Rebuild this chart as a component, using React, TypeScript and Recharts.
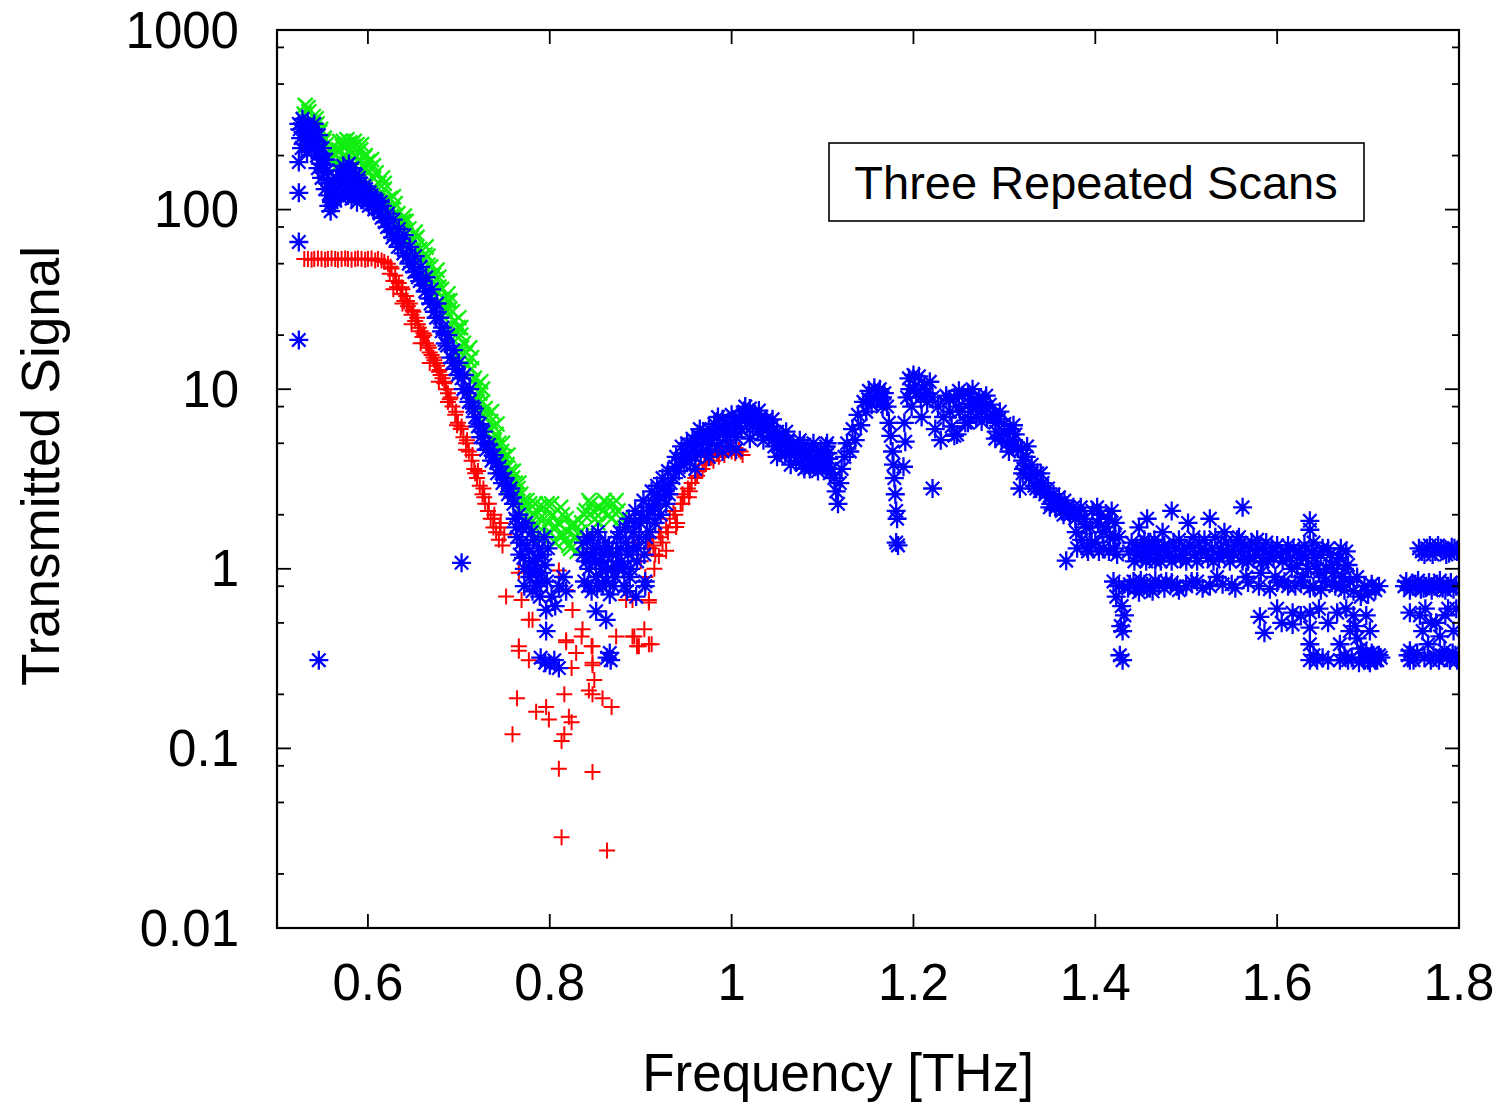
import { Scatter, ScatterChart, XAxis, YAxis } from "recharts";

// three repeated THz transmission scans: [frequency THz, signal]
const scan1Red: [number, number][] = [
  [0.530, 53], [0.534, 53], [0.538, 52.5], [0.541, 53], [0.545, 53.5], [0.549, 53], [0.553, 52.5], [0.556, 53],
  [0.560, 53.5], [0.564, 53], [0.567, 52.5], [0.571, 53], [0.575, 53.5], [0.578, 53], [0.582, 52.5], [0.586, 53],
  [0.589, 53.5], [0.593, 53], [0.597, 52.5], [0.600, 53], [0.604, 53.5], [0.608, 52], [0.611, 53], [0.615, 52], [0.618, 51],
  [0.622, 50], [0.624, 44], [0.626, 47], [0.628, 40], [0.630, 43], [0.632, 37], [0.634, 39], [0.636, 34], [0.638, 36],
  [0.640, 31], [0.642, 33], [0.644, 29], [0.646, 30], [0.648, 26], [0.650, 27], [0.652, 24], [0.654, 25], [0.656, 22],
  [0.658, 21], [0.660, 19.5], [0.662, 20], [0.664, 18], [0.666, 17.5], [0.668, 16], [0.670, 15.5], [0.672, 15],
  [0.674, 14], [0.676, 13.5], [0.678, 12.5], [0.680, 12], [0.682, 11.5], [0.684, 10.8], [0.686, 10], [0.688, 9.5],
  [0.690, 8.8], [0.693, 8], [0.696, 7.2], [0.699, 6.5], [0.702, 6], [0.705, 5.4], [0.708, 5], [0.711, 4.5], [0.714, 4],
  [0.717, 3.6], [0.720, 3.2], [0.723, 2.9], [0.726, 2.6], [0.729, 2.3], [0.732, 2.1], [0.735, 1.9], [0.738, 1.7],
  [0.741, 1.6], [0.744, 1.45], [0.746, 1.8], [0.748, 1.35],
  [0.625, 48], [0.631, 40], [0.637, 37], [0.643, 31], [0.649, 27.5], [0.655, 23], [0.661, 20.5], [0.667, 17],
  [0.673, 14.5], [0.679, 12.8], [0.685, 11], [0.691, 9], [0.697, 7.5], [0.703, 6.2], [0.709, 5.2], [0.715, 4.3],
  [0.721, 3.5], [0.727, 2.8], [0.733, 2.3], [0.739, 2.0], [0.745, 1.7], [0.750, 1.55],
  [0.628, 36], [0.638, 30], [0.648, 23], [0.658, 18], [0.668, 14], [0.678, 11], [0.688, 8.5], [0.698, 6.3],
  [0.708, 4.6], [0.718, 3.4], [0.728, 2.5], [0.738, 1.9],
  [0.752, 0.70], [0.766, 0.95], [0.777, 0.52], [0.766, 0.37], [0.777, 0.31], [0.796, 0.59], [0.810, 0.98], [0.818, 0.76],
  [0.825, 0.59], [0.818, 0.39], [0.829, 0.34], [0.836, 0.46], [0.847, 0.37], [0.847, 0.30], [0.873, 0.42], [0.891, 0.42],
  [0.898, 0.37], [0.909, 0.38], [0.891, 0.67], [0.909, 0.67], [0.920, 1.18], [0.928, 1.26], [0.939, 1.71], [0.946, 2.3],
  [0.953, 2.5], [0.766, 0.35], [0.781, 0.52], [0.796, 0.17], [0.785, 0.16], [0.764, 0.19], [0.799, 0.145], [0.759, 0.12],
  [0.816, 0.20], [0.821, 0.15], [0.824, 0.14], [0.816, 0.12], [0.813, 0.11], [0.810, 0.077], [0.847, 0.074], [0.813, 0.032],
  [0.863, 0.027], [0.843, 0.21], [0.849, 0.24], [0.847, 0.20], [0.858, 0.19], [0.868, 0.17], [0.846, 0.37], [0.847, 0.29],
  [0.835, 0.42], [0.824, 0.28], [0.769, 0.67], [0.818, 0.40], [0.893, 0.42], [0.896, 0.37], [0.912, 0.38], [0.904, 0.46],
  [0.884, 0.67], [0.909, 0.65], [0.893, 1.4], [0.900, 1.1], [0.905, 0.9], [0.910, 1.3], [0.915, 1.0],
  [0.908, 1.3], [0.912, 1.5], [0.916, 1.2], [0.920, 1.6], [0.924, 1.4], [0.928, 1.7], [0.932, 1.9], [0.936, 2.1],
  [0.940, 1.8], [0.944, 2.3], [0.948, 2.5], [0.952, 2.8], [0.956, 3.0], [0.960, 3.2], [0.964, 3.5], [0.968, 3.6],
  [0.972, 3.9], [0.976, 4.2], [0.980, 4.0], [0.984, 4.4], [0.988, 4.6], [0.992, 4.3], [0.996, 4.7], [1.000, 4.5],
  [1.004, 4.4], [1.008, 4.6], [1.012, 4.3],
  [0.914, 1.35], [0.922, 1.5], [0.930, 1.6], [0.938, 2.0], [0.946, 2.6], [0.954, 2.7], [0.962, 3.3], [0.970, 3.8],
  [0.978, 4.3], [0.986, 4.2], [0.994, 4.6], [1.002, 4.7], [1.010, 4.5],
];

const scan2Green: [number, number][] = [
  [0.530, 340], [0.532, 290], [0.534, 370], [0.536, 310], [0.538, 260], [0.540, 330], [0.542, 280], [0.544, 300],
  [0.546, 240], [0.548, 280], [0.550, 220], [0.552, 250], [0.554, 230], [0.556, 200], [0.558, 215], [0.560, 195],
  [0.562, 180], [0.564, 200], [0.566, 175], [0.568, 215], [0.570, 190], [0.572, 225], [0.574, 180], [0.576, 230],
  [0.578, 195], [0.580, 235], [0.582, 185], [0.584, 225], [0.586, 200], [0.588, 230], [0.590, 190], [0.592, 215],
  [0.594, 175], [0.596, 195], [0.598, 170], [0.600, 185], [0.600, 160], [0.603, 170], [0.606, 150], [0.609, 160],
  [0.531, 380], [0.535, 350], [0.539, 300], [0.543, 320], [0.547, 270], [0.551, 240], [0.565, 215], [0.569, 240],
  [0.573, 240], [0.577, 245], [0.581, 215], [0.585, 240], [0.589, 210], [0.593, 230], [0.597, 200],
  [0.612, 140], [0.612, 118], [0.615, 125], [0.618, 130], [0.621, 112], [0.624, 115], [0.627, 100], [0.630, 92],
  [0.630, 80], [0.633, 95], [0.636, 84], [0.639, 86], [0.642, 76], [0.645, 78], [0.648, 70], [0.648, 58], [0.651, 68],
  [0.654, 62], [0.657, 60], [0.660, 55], [0.663, 56], [0.666, 49], [0.666, 40], [0.669, 48], [0.672, 43], [0.675, 41],
  [0.678, 37], [0.681, 36], [0.684, 32], [0.684, 27], [0.687, 31], [0.690, 28], [0.693, 27], [0.696, 24], [0.699, 22],
  [0.702, 20], [0.702, 16], [0.705, 18], [0.708, 16], [0.711, 14.5], [0.714, 13], [0.717, 11.5], [0.720, 10.5],
  [0.720, 8.5], [0.723, 9.5], [0.726, 8.5], [0.729, 7.8], [0.732, 7.2], [0.735, 6.6], [0.738, 6.2], [0.738, 5],
  [0.741, 5.6], [0.744, 5.0], [0.747, 4.5], [0.750, 4.2], [0.753, 3.8], [0.756, 3.5], [0.756, 2.9], [0.759, 3.2],
  [0.762, 3.0], [0.765, 2.8], [0.768, 2.6], [0.771, 2.4],
  [0.601, 140], [0.607, 130], [0.613, 108], [0.619, 100], [0.625, 90], [0.631, 84], [0.637, 72], [0.643, 64],
  [0.649, 56], [0.655, 52], [0.661, 46], [0.667, 42], [0.673, 36], [0.679, 31], [0.685, 28], [0.691, 23], [0.697, 20],
  [0.703, 17], [0.709, 13.5], [0.715, 11], [0.721, 9], [0.727, 7.2], [0.733, 6.0], [0.739, 5.2], [0.745, 4.3],
  [0.751, 3.6], [0.757, 3.0], [0.763, 2.6], [0.769, 2.2],
  [0.604, 190], [0.616, 150], [0.628, 118], [0.640, 92], [0.652, 75], [0.664, 62], [0.676, 46], [0.688, 34],
  [0.700, 25], [0.712, 17], [0.724, 11], [0.736, 7.5], [0.748, 5.0], [0.760, 3.5],
  [0.606, 175], [0.618, 140], [0.630, 108], [0.642, 86], [0.654, 70], [0.666, 55], [0.678, 42], [0.690, 31],
  [0.702, 22], [0.714, 15], [0.726, 10], [0.742, 6.4], [0.754, 4.3], [0.766, 3.0],
  [0.773, 2.2], [0.776, 1.9], [0.778, 2.3], [0.780, 1.6], [0.783, 2.0], [0.786, 1.75], [0.788, 2.2], [0.791, 1.5],
  [0.794, 1.9], [0.797, 2.3], [0.800, 1.6], [0.803, 2.0], [0.806, 1.4], [0.809, 1.8], [0.812, 2.2], [0.815, 1.55],
  [0.818, 1.9], [0.821, 1.35], [0.824, 1.7], [0.827, 1.5], [0.830, 1.25],
  [0.775, 2.4], [0.779, 1.8], [0.784, 2.3], [0.789, 1.9], [0.793, 2.2], [0.798, 1.8], [0.802, 2.3], [0.807, 1.7],
  [0.811, 1.55], [0.814, 2.0], [0.817, 1.45], [0.820, 1.6], [0.823, 1.3], [0.826, 1.8], [0.829, 1.5], [0.833, 1.6],
  [0.835, 1.8], [0.840, 2.1], [0.845, 2.3], [0.850, 1.9], [0.855, 2.2], [0.860, 2.4], [0.865, 2.0], [0.870, 2.3],
  [0.875, 2.1], [0.878, 1.9],
  [0.838, 2.0], [0.843, 2.4], [0.848, 2.1], [0.853, 1.8], [0.858, 2.1], [0.863, 2.3], [0.868, 1.9], [0.873, 2.4],
];

const scan3Blue: [number, number][] = [
  [0.524, 18.8], [0.524, 66], [0.524, 124], [0.524, 184], [0.546, 0.31], [0.703, 1.08],
  [0.524, 300], [0.526, 250], [0.528, 320], [0.530, 270], [0.532, 230], [0.534, 300], [0.536, 260], [0.538, 215],
  [0.540, 280], [0.541, 300], [0.542, 240], [0.544, 200], [0.545, 170], [0.546, 260], [0.548, 180], [0.550, 220],
  [0.552, 160], [0.554, 190], [0.556, 140], [0.557, 105], [0.558, 120], [0.559, 98], [0.561, 115],
  [0.563, 130], [0.565, 150], [0.567, 120], [0.569, 165], [0.571, 140], [0.573, 175], [0.575, 125], [0.577, 160],
  [0.579, 180], [0.581, 140], [0.583, 170], [0.585, 120], [0.587, 155], [0.589, 135],
  [0.525, 280], [0.527, 220], [0.529, 300], [0.531, 250], [0.533, 210], [0.535, 280], [0.537, 240], [0.539, 250],
  [0.543, 260], [0.547, 220], [0.549, 150], [0.551, 190], [0.553, 130], [0.555, 165], [0.557, 140], [0.560, 110],
  [0.562, 130], [0.564, 112], [0.566, 135], [0.568, 145], [0.570, 118], [0.572, 155], [0.574, 150], [0.576, 135],
  [0.578, 120], [0.580, 155], [0.582, 115], [0.584, 145], [0.586, 135], [0.588, 110], [0.590, 150], [0.593, 120],
  [0.596, 135], [0.599, 110], [0.602, 125], [0.605, 108], [0.608, 115], [0.611, 100], [0.614, 110],
  [0.592, 140], [0.595, 115], [0.598, 130], [0.601, 105], [0.604, 120], [0.607, 100], [0.610, 112],
  [0.613, 95], [0.616, 105], [0.619, 85], [0.622, 95], [0.625, 75], [0.628, 88], [0.631, 68], [0.634, 78],
  [0.637, 65], [0.640, 72], [0.643, 55], [0.646, 62], [0.649, 48], [0.652, 55], [0.655, 42],
  [0.658, 48], [0.661, 38], [0.664, 42], [0.667, 32], [0.670, 36], [0.673, 27], [0.676, 30],
  [0.679, 25], [0.682, 22], [0.685, 18], [0.688, 20], [0.691, 15], [0.694, 16.5], [0.697, 13], [0.700, 14],
  [0.703, 11.5], [0.706, 12], [0.709, 9.5], [0.712, 10], [0.715, 8],
  [0.718, 7], [0.721, 6.2], [0.724, 5.4], [0.727, 5.8], [0.730, 4.6], [0.733, 4.9], [0.736, 4.0], [0.739, 4.3],
  [0.742, 3.4], [0.745, 3.7], [0.748, 3.0], [0.751, 3.2], [0.754, 2.6], [0.757, 2.8], [0.760, 2.3],
  [0.615, 90], [0.621, 80], [0.627, 70], [0.633, 62], [0.639, 57], [0.645, 50], [0.651, 45], [0.657, 40], [0.663, 35],
  [0.669, 30], [0.675, 25], [0.681, 21], [0.687, 17.5], [0.693, 14], [0.699, 12], [0.705, 10], [0.711, 8.5],
  [0.717, 7.8], [0.723, 6.4], [0.729, 5.0], [0.735, 4.6], [0.741, 3.9], [0.747, 3.4], [0.753, 2.9], [0.759, 2.5],
  [0.762, 1.9], [0.764, 1.5], [0.767, 1.2], [0.770, 1.7], [0.772, 1.0], [0.775, 1.35], [0.778, 0.9], [0.780, 1.6],
  [0.783, 1.1], [0.786, 0.8], [0.788, 1.3], [0.791, 0.95], [0.794, 1.5],
  [0.763, 1.7], [0.766, 2.0], [0.769, 1.4], [0.771, 1.15], [0.774, 1.8], [0.777, 1.25], [0.779, 1.0], [0.782, 1.45],
  [0.785, 0.95], [0.787, 1.15], [0.790, 0.85], [0.792, 1.2], [0.795, 1.05], [0.798, 1.3], [0.772, 0.8], [0.781, 0.75],
  [0.789, 0.7],
  [0.796, 0.59], [0.796, 0.45], [0.790, 0.32], [0.795, 0.30], [0.800, 0.29], [0.805, 0.31], [0.810, 0.28],
  [0.797, 0.85], [0.802, 0.7], [0.806, 0.62], [0.810, 0.8], [0.815, 0.9], [0.818, 0.75],
  [0.836, 1.2], [0.838, 0.85], [0.841, 1.5], [0.843, 1.0], [0.846, 0.75], [0.848, 1.3], [0.851, 0.9], [0.853, 1.6],
  [0.856, 1.1], [0.858, 0.8], [0.861, 1.4], [0.864, 1.0], [0.866, 0.72], [0.869, 1.2], [0.872, 0.9], [0.874, 1.5],
  [0.837, 1.4], [0.840, 1.1], [0.842, 0.8], [0.845, 1.2], [0.847, 1.5], [0.850, 1.1], [0.852, 0.8], [0.855, 1.3],
  [0.857, 1.0], [0.860, 1.2], [0.862, 0.85], [0.865, 1.3], [0.868, 1.0], [0.870, 0.8], [0.873, 1.2], [0.875, 1.0],
  [0.851, 0.58], [0.862, 0.52], [0.863, 0.32], [0.867, 0.31], [0.866, 0.34],
  [0.877, 1.6], [0.879, 1.1], [0.882, 0.8], [0.884, 1.4], [0.887, 1.9], [0.889, 1.0], [0.892, 1.6], [0.894, 2.1],
  [0.897, 1.3], [0.900, 1.8], [0.903, 2.4], [0.906, 1.5], [0.909, 2.2], [0.912, 2.7],
  [0.878, 1.3], [0.881, 1.0], [0.883, 1.7], [0.886, 1.2], [0.888, 0.9], [0.891, 1.3], [0.893, 1.8], [0.896, 1.1],
  [0.898, 1.5], [0.901, 2.0], [0.904, 1.2], [0.907, 1.9], [0.910, 1.6], [0.913, 2.1], [0.916, 1.8], [0.919, 2.4],
  [0.922, 2.0], [0.925, 2.8], [0.928, 2.3], [0.931, 2.6],
  [0.885, 0.75], [0.895, 0.7], [0.905, 0.8], [0.905, 0.85],
  [0.915, 2.3], [0.918, 2.9], [0.921, 2.5], [0.924, 3.2], [0.927, 2.7], [0.930, 3.5], [0.933, 3.0],
  [0.936, 3.2], [0.939, 4.2], [0.942, 3.5], [0.945, 4.8], [0.948, 3.8], [0.951, 5.0], [0.954, 4.0], [0.957, 5.3],
  [0.960, 4.2], [0.963, 5.5], [0.966, 4.4], [0.969, 5.8], [0.972, 4.6],
  [0.975, 6.0], [0.978, 5.0], [0.981, 6.4], [0.984, 4.8], [0.987, 5.6], [0.990, 6.8], [0.993, 5.2], [0.996, 6.2],
  [0.999, 4.8], [1.002, 6.6], [1.005, 5.4], [1.008, 7.0],
  [1.011, 6.0], [1.014, 7.5], [1.017, 6.5], [1.020, 7.8], [1.023, 6.2], [1.026, 7.2], [1.029, 5.8], [1.032, 7.0], [1.035, 6.4],
  [1.038, 6.8], [1.041, 5.5], [1.044, 6.2], [1.047, 4.8], [1.050, 5.8], [1.053, 4.6], [1.056, 5.5], [1.059, 4.3],
  [1.062, 5.2], [1.065, 4.4],
  [1.068, 5.0], [1.071, 4.0], [1.074, 4.6], [1.077, 3.8], [1.080, 4.9], [1.083, 4.2], [1.086, 3.6], [1.089, 4.6],
  [1.092, 4.0], [1.095, 3.7], [1.098, 4.5], [1.101, 3.9], [1.104, 4.8], [1.107, 4.1], [1.110, 3.6],
  [0.938, 3.7], [0.944, 4.1], [0.950, 4.4], [0.956, 4.6], [0.962, 4.9], [0.968, 5.1], [0.974, 5.4], [0.980, 5.6],
  [0.986, 5.9], [0.992, 6.0], [0.998, 5.7], [1.004, 6.0], [1.010, 6.8], [1.016, 6.8], [1.022, 7.0], [1.028, 6.6],
  [1.034, 6.0], [1.040, 6.1], [1.046, 5.3], [1.052, 5.1], [1.058, 4.9], [1.064, 4.8], [1.070, 4.5], [1.076, 4.3],
  [1.082, 4.5], [1.088, 4.1], [1.094, 4.3], [1.100, 4.2], [1.106, 4.4],
  [0.960, 3.6], [0.975, 4.2], [0.990, 4.5], [1.005, 4.6], [1.020, 5.3], [1.035, 5.2], [1.050, 4.2], [1.065, 3.8],
  [1.080, 3.6], [1.095, 3.5], [1.108, 3.4],
  [0.965, 6.0], [0.985, 7.0], [1.000, 7.2], [1.015, 8.0], [1.030, 7.6], [1.045, 6.8], [1.060, 5.8], [1.075, 5.2],
  [1.090, 5.0], [1.105, 5.0],
  [1.113, 3.2], [1.115, 2.7], [1.117, 2.3], [1.119, 3.0], [1.121, 3.6],
  [1.124, 4.2], [1.127, 5.0], [1.130, 4.5], [1.133, 6.0], [1.136, 5.2], [1.139, 7.2], [1.142, 6.3], [1.145, 8.5], [1.148, 7.5],
  [1.151, 9.8], [1.154, 8.2], [1.157, 10.2], [1.160, 8.8], [1.163, 10.0], [1.166, 8.0], [1.168, 9.5],
  [1.150, 8.8], [1.156, 9.2], [1.162, 9.4], [1.166, 9.0],
  [1.171, 8.0], [1.173, 6.5], [1.175, 5.5], [1.177, 4.5], [1.178, 3.8], [1.179, 3.2], [1.180, 2.6], [1.181, 2.1],
  [1.182, 1.9], [1.181, 1.4], [1.183, 1.35],
  [1.190, 6.5], [1.191, 5.1], [1.189, 3.7], [1.221, 2.8],
  [1.193, 9.0], [1.195, 11.5], [1.198, 8.0], [1.200, 12.0], [1.203, 9.5], [1.206, 11.8], [1.209, 7.0], [1.212, 10.5],
  [1.215, 8.5], [1.218, 11.0], [1.196, 10], [1.202, 10.5], [1.208, 9], [1.214, 9.5],
  [1.221, 9.0], [1.224, 6.0], [1.227, 8.0], [1.230, 5.2], [1.233, 7.0], [1.236, 9.2],
  [1.239, 8.8], [1.242, 6.2], [1.245, 9.0], [1.248, 5.6], [1.251, 7.5], [1.254, 9.2], [1.257, 6.5],
  [1.260, 9.5], [1.263, 7.5], [1.266, 8.8], [1.269, 7.0], [1.272, 9.0], [1.275, 7.8], [1.278, 8.5], [1.281, 7.0], [1.284, 8.2],
  [1.240, 7.5], [1.250, 8.0], [1.262, 8.3], [1.270, 8.0], [1.280, 7.8], [1.290, 6.5], [1.300, 5.7], [1.310, 5.2],
  [1.320, 4.0], [1.330, 3.4], [1.340, 2.9], [1.350, 2.5], [1.360, 2.3], [1.370, 2.1],
  [1.245, 5.5], [1.260, 6.5], [1.275, 6.6], [1.290, 5.3], [1.305, 4.5], [1.320, 3.4], [1.335, 2.8], [1.350, 2.2],
  [1.365, 2.0], [1.250, 9.8], [1.265, 10], [1.280, 9.2], [1.295, 7.5], [1.310, 6.3], [1.325, 4.8], [1.340, 3.4],
  [1.288, 7.2], [1.291, 5.8], [1.294, 6.8], [1.297, 5.2], [1.300, 6.4], [1.303, 5.0], [1.306, 6.0], [1.309, 4.8],
  [1.312, 5.6], [1.315, 4.7], [1.317, 2.8],
  [1.318, 4.6], [1.321, 3.6], [1.324, 4.2], [1.327, 3.2], [1.330, 3.8], [1.333, 2.9], [1.336, 3.4], [1.339, 2.7],
  [1.342, 3.0], [1.345, 2.6],
  [1.348, 2.8], [1.351, 2.3], [1.354, 2.6], [1.357, 2.2], [1.360, 2.5], [1.363, 2.1], [1.366, 2.4], [1.369, 2.2],
  [1.372, 2.0], [1.368, 1.11],
  [1.376, 2.2], [1.379, 1.6], [1.382, 2.0], [1.385, 1.45], [1.388, 1.9], [1.391, 1.3], [1.394, 1.7], [1.397, 2.1],
  [1.400, 1.4], [1.403, 1.8],
  [1.378, 1.9], [1.384, 2.2], [1.390, 1.7], [1.396, 1.4], [1.402, 2.2], [1.408, 1.6], [1.414, 1.9], [1.420, 1.3],
  [1.426, 1.5], [1.380, 1.3], [1.392, 1.25], [1.404, 1.25], [1.416, 1.5], [1.422, 1.8],
  [1.406, 2.0], [1.409, 1.3], [1.412, 1.7], [1.415, 1.25], [1.418, 2.1], [1.421, 1.5], [1.424, 1.2],
  [1.420, 0.85], [1.423, 0.7], [1.426, 0.8], [1.429, 0.62], [1.432, 0.55], [1.428, 0.48], [1.430, 0.45],
  [1.427, 0.33], [1.430, 0.31],
  [1.436, 0.78], [1.442, 0.85], [1.448, 0.74], [1.454, 0.82], [1.460, 0.78], [1.466, 0.86],
  [1.445, 1.3], [1.448, 1.7], [1.451, 1.15], [1.454, 1.45], [1.457, 1.9], [1.460, 1.2], [1.463, 1.35], [1.466, 1.1],
  [1.484, 2.1],
  [1.470, 1.3], [1.474, 1.6], [1.478, 0.85], [1.482, 1.2], [1.486, 1.4], [1.490, 0.8], [1.494, 1.15], [1.498, 1.3],
  [1.502, 1.8], [1.506, 0.85], [1.510, 1.2], [1.514, 1.4], [1.518, 0.78], [1.522, 1.25], [1.526, 1.9], [1.530, 1.1],
  [1.534, 0.9], [1.538, 1.3], [1.542, 1.6], [1.546, 1.2], [1.550, 0.82], [1.554, 1.35],
  [1.562, 2.2],
  [1.558, 1.5], [1.562, 1.1], [1.566, 0.9], [1.570, 1.3], [1.574, 1.15], [1.578, 1.45], [1.582, 0.95], [1.586, 1.25],
  [1.590, 1.1], [1.594, 1.3], [1.598, 0.9], [1.581, 0.54], [1.586, 0.44],
  [1.604, 1.2], [1.608, 0.85], [1.612, 1.35], [1.616, 1.0], [1.620, 0.8], [1.624, 1.25], [1.628, 0.9], [1.632, 1.15],
  [1.636, 0.78], [1.617, 0.57], [1.617, 0.49], [1.636, 0.57], [1.636, 0.47], [1.636, 0.38], [1.636, 0.31],
  [1.636, 1.85], [1.636, 1.65],
  [1.640, 1.4], [1.644, 1.0], [1.648, 1.2], [1.652, 0.85], [1.656, 1.3], [1.660, 1.05], [1.664, 0.8], [1.668, 1.15],
  [1.672, 0.9], [1.676, 1.25], [1.666, 0.57], [1.669, 0.38], [1.669, 0.31],
  [1.437, 1.25], [1.440, 1.4], [1.443, 1.1], [1.446, 1.2], [1.450, 1.35], [1.453, 1.25], [1.456, 1.1], [1.459, 1.4],
  [1.462, 1.25], [1.465, 1.45], [1.468, 1.2], [1.472, 1.1], [1.476, 1.35], [1.480, 1.25], [1.484, 1.1], [1.488, 1.3],
  [1.492, 1.45], [1.496, 1.2], [1.500, 1.1], [1.504, 1.35], [1.508, 1.5], [1.512, 1.1], [1.516, 1.25], [1.520, 1.45],
  [1.524, 1.15], [1.528, 1.3], [1.532, 1.5], [1.536, 1.15], [1.540, 1.25], [1.544, 1.4], [1.548, 1.1], [1.552, 1.2],
  [1.556, 1.45], [1.560, 1.25], [1.564, 1.35], [1.568, 1.1], [1.572, 1.4], [1.576, 1.2], [1.580, 1.3], [1.584, 1.1],
  [1.588, 1.4], [1.592, 1.2], [1.596, 1.15], [1.600, 1.35], [1.606, 1.1], [1.610, 1.25], [1.614, 1.15], [1.618, 1.3],
  [1.622, 1.05], [1.626, 1.2], [1.630, 1.35], [1.634, 1.0], [1.638, 1.25], [1.642, 1.15], [1.646, 0.95], [1.650, 1.3],
  [1.654, 1.0], [1.658, 1.2], [1.662, 0.95], [1.666, 1.1], [1.670, 1.3], [1.674, 1.0], [1.678, 1.05],
  [1.438, 0.82], [1.444, 0.78], [1.450, 0.86], [1.457, 0.8], [1.463, 0.75], [1.470, 0.82], [1.476, 0.78], [1.484, 0.84],
  [1.492, 0.76], [1.500, 0.8], [1.512, 0.85], [1.526, 0.8], [1.540, 0.82], [1.554, 0.78], [1.568, 0.84], [1.580, 0.8],
  [1.592, 0.77], [1.600, 0.84], [1.612, 0.8], [1.626, 0.85], [1.640, 0.8], [1.648, 0.76], [1.660, 0.84], [1.670, 0.8],
  [1.674, 0.76],
  [1.600, 0.6], [1.605, 0.5], [1.626, 0.55], [1.646, 0.6], [1.656, 0.5], [1.676, 0.6], [1.680, 0.45], [1.698, 0.55],
  [1.702, 0.45],
  [1.640, 0.33], [1.644, 0.31], [1.650, 0.32], [1.656, 0.31], [1.674, 0.33], [1.678, 0.31], [1.682, 0.32],
  [1.698, 0.34], [1.702, 0.30], [1.706, 0.33], [1.710, 0.31], [1.714, 0.32],
  [1.680, 0.85], [1.684, 0.75], [1.688, 0.9], [1.692, 0.7], [1.696, 0.8], [1.700, 0.72], [1.704, 0.82], [1.708, 0.76],
  [1.712, 0.8], [1.684, 0.55], [1.686, 0.48], [1.688, 0.41], [1.692, 0.36], [1.696, 0.32], [1.700, 0.31], [1.704, 0.34],
  [1.708, 0.31], [1.712, 0.33], [1.690, 0.30],
  [1.746, 0.57], [1.746, 0.35], [1.746, 0.31],
  [1.740, 0.8], [1.746, 0.76], [1.752, 0.82], [1.758, 0.77], [1.764, 0.8], [1.770, 0.76], [1.776, 0.82], [1.782, 0.78],
  [1.788, 0.8], [1.794, 0.77],
  [1.742, 0.85], [1.749, 0.8], [1.755, 0.86], [1.761, 0.78], [1.767, 0.84], [1.773, 0.8], [1.779, 0.86], [1.785, 0.76],
  [1.791, 0.84], [1.797, 0.8],
  [1.756, 1.3], [1.762, 1.2], [1.768, 1.35], [1.774, 1.25], [1.780, 1.3], [1.786, 1.2], [1.792, 1.32], [1.798, 1.25],
  [1.759, 1.25], [1.765, 1.3], [1.771, 1.2], [1.777, 1.35], [1.783, 1.28], [1.789, 1.22], [1.795, 1.3],
  [1.757, 0.55], [1.760, 0.45], [1.766, 0.38], [1.772, 0.33], [1.778, 0.31], [1.784, 0.35], [1.790, 0.31], [1.796, 0.33],
  [1.775, 0.5], [1.788, 0.6], [1.794, 0.45],
  [1.744, 0.33], [1.750, 0.31], [1.754, 0.34], [1.762, 0.32], [1.769, 0.31], [1.781, 0.33], [1.787, 0.32],
  [1.793, 0.34], [1.798, 0.31], [1.763, 0.6], [1.769, 0.5], [1.779, 0.42], [1.785, 0.55], [1.797, 0.6],
];

const xTicks = [0.6, 0.8, 1, 1.2, 1.4, 1.6, 1.8];
const yMajor = [0.01, 0.1, 1, 10, 100, 1000];
const yTicks = [0.01, 0.02, 0.05, 0.08, 0.1, 0.2, 0.5, 0.8, 1, 2, 5, 8, 10, 20, 50, 80, 100, 200, 500, 800, 1000];

const W = 1503;
const H = 1107;
const LEFT = 269;
const RIGHT = 1451;
const TOP = 30;
const BOTTOM = 928;
const FONT = "'Liberation Sans', Arial, Helvetica, sans-serif";

const toPoints = (arr: [number, number][]) => arr.map(([x, y]) => ({ x, y }));

function PlusMark(props: any) {
  const { cx, cy } = props;
  if (cx == null || cy == null) return <g />;
  return <path d={`M${cx - 8},${cy}h16M${cx},${cy - 8}v16`} stroke="#ff0000" strokeWidth={2} fill="none" />;
}

function CrossMark(props: any) {
  const { cx, cy } = props;
  if (cx == null || cy == null) return <g />;
  return (
    <path d={`M${cx - 7.5},${cy - 7.5}l15,15M${cx - 7.5},${cy + 7.5}l15,-15`} stroke="#11ee11" strokeWidth={2.4} fill="none" />
  );
}

function StarMark(props: any) {
  const { cx, cy } = props;
  if (cx == null || cy == null) return <g />;
  return (
    <path
      d={`M${cx - 9.5},${cy}h19M${cx},${cy - 9.5}v19M${cx - 6.7},${cy - 6.7}l13.4,13.4M${cx - 6.7},${cy + 6.7}l13.4,-13.4`}
      stroke="#0000ff"
      strokeWidth={2.3}
      fill="none"
    />
  );
}

function XTick(props: any) {
  const { x, payload } = props;
  return (
    <g>
      <line x1={x} x2={x} y1={BOTTOM} y2={BOTTOM - 14} stroke="#000" strokeWidth={1.8} />
      <line x1={x} x2={x} y1={TOP} y2={TOP + 14} stroke="#000" strokeWidth={1.8} />
      <text x={x} y={BOTTOM + 54} textAnchor="middle" dominantBaseline="central" fontSize={51} fontFamily={FONT} fill="#000">
        {String(payload.value)}
      </text>
    </g>
  );
}

function YTick(props: any) {
  const { y, payload } = props;
  const major = yMajor.includes(payload.value);
  const len = major ? 14 : 7;
  return (
    <g>
      <line x1={LEFT} x2={LEFT + len} y1={y} y2={y} stroke="#000" strokeWidth={1.8} />
      <line x1={RIGHT} x2={RIGHT - len} y1={y} y2={y} stroke="#000" strokeWidth={1.8} />
      {major && (
        <text x={231} y={y} textAnchor="end" dominantBaseline="central" fontSize={51} fontFamily={FONT} fill="#000">
          {String(payload.value)}
        </text>
      )}
    </g>
  );
}

export default function App() {
  return (
    <div style={{ position: "relative", width: W, height: H, marginTop: -8, background: "#fff" }}>
      <ScatterChart width={W} height={H} margin={{ top: TOP, right: W - RIGHT, bottom: H - BOTTOM - 150, left: LEFT - 200 }}>
        <XAxis
          dataKey="x"
          type="number"
          domain={[0.5, 1.8]}
          ticks={xTicks}
          interval={0}
          allowDataOverflow
          axisLine={false}
          tickLine={false}
          tick={<XTick />}
          height={150}
        />
        <YAxis
          dataKey="y"
          type="number"
          scale="log"
          domain={[0.01, 1000]}
          ticks={yTicks}
          interval={0}
          allowDataOverflow
          axisLine={false}
          tickLine={false}
          tick={<YTick />}
          width={200}
        />
        <Scatter data={toPoints(scan1Red)} shape={<PlusMark />} isAnimationActive={false} />
        <Scatter data={toPoints(scan2Green)} shape={<CrossMark />} isAnimationActive={false} />
        <Scatter data={toPoints(scan3Blue)} shape={<StarMark />} isAnimationActive={false} />
      </ScatterChart>
      <svg width={W} height={H} style={{ position: "absolute", left: 0, top: 0, pointerEvents: "none" }}>
        <rect x={LEFT} y={TOP} width={RIGHT - LEFT} height={BOTTOM - TOP} fill="none" stroke="#000" strokeWidth={2.2} />
        <rect x={821} y={143} width={535} height={78} fill="#fff" stroke="#000" strokeWidth={1.6} />
        <text x={1088} y={182} textAnchor="middle" dominantBaseline="central" fontSize={47} fontFamily={FONT} fill="#000">
          Three Repeated Scans
        </text>
        <text x={830} y={1072} textAnchor="middle" dominantBaseline="central" fontSize={53} fontFamily={FONT} fill="#000">
          Frequency [THz]
        </text>
        <text
          x={32}
          y={466}
          transform="rotate(-90 32 466)"
          textAnchor="middle"
          dominantBaseline="central"
          fontSize={53}
          fontFamily={FONT}
          fill="#000"
        >
          Transmitted Signal
        </text>
      </svg>
    </div>
  );
}
